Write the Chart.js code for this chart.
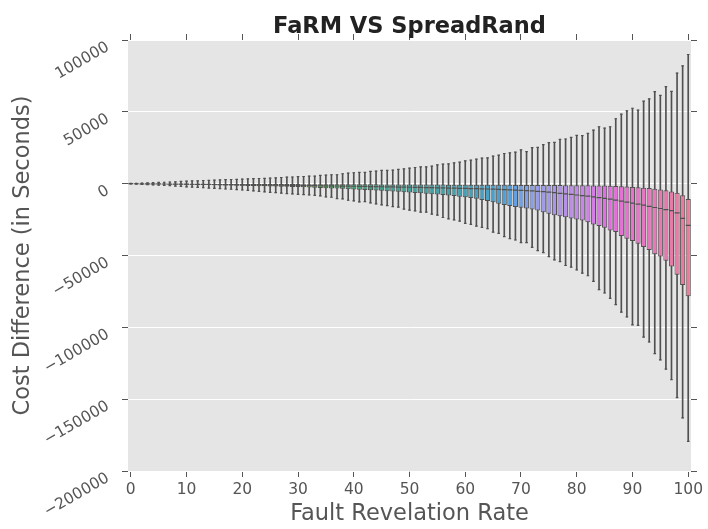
<!DOCTYPE html>
<html>
<head>
<meta charset="utf-8">
<script src="https://cdn.jsdelivr.net/npm/chart.js@4/dist/chart.umd.min.js"></script>
<style>
  body { margin: 0; background: #fff; }
  #wrap { width: 708px; height: 529px; position: relative; }
</style>
</head>
<body>
<div id="wrap"><canvas id="chart"></canvas></div>
<script>
// Fault revelation rate 0..100 (one box per rate)
const rates = Array.from({ length: 101 }, (_, i) => i);

// Box plot statistics (seconds)
const whiskerHigh = [
    150, 300, 400, 550, 700, 850, 1000, 1150, 1300, 1550,
    1800, 1900, 2000, 2200, 2350, 2500, 2600, 2750, 2900, 3050,
    3200, 3350, 3500, 3600, 3750, 3900, 4100, 4300, 4500, 4650,
    4850, 5000, 5280, 5280, 5740, 5970, 6200, 6200, 6890, 7350,
    7590, 7810, 7810, 8510, 8740, 9200, 9200, 9430, 9890, 10350,
    10810, 11270, 11730, 11730, 12190, 13120, 13580, 13810, 14500, 14960,
    15890, 16340, 17030, 17800, 18000, 19200, 19800, 21000, 21400, 21900,
    23500, 22300, 25100, 25300, 27200, 28600, 28800, 30800, 31100, 32200,
    33600, 33400, 35000, 37300, 39600, 38700, 39600, 45200, 48400, 50700,
    52500, 51200, 57400, 59000, 64000, 61500, 67500, 64300, 77000, 82000,
    89900
];
const boxHigh = [
    -10, -20, -30, -40, -50, -60, -70, -80, -90, -100,
    -110, -120, -130, -140, -150, -160, -170, -180, -190, -200,
    -210, -220, -230, -240, -250, -260, -270, -280, -290, -300,
    -310, -320, -330, -350, -360, -370, -390, -400, -410, -430,
    -440, -450, -470, -480, -490, -510, -520, -530, -550, -560,
    -570, -590, -600, -610, -630, -640, -650, -670, -680, -690,
    -710, -720, -740, -750, -770, -780, -800, -820, -830, -850,
    -870, -890, -900, -920, -940, -960, -980, -1000, -1030, -1050,
    -1080, -1110, -1150, -1200, -1260, -1330, -1450, -1600, -1800, -2000,
    -2250, -2500, -2800, -3100, -3500, -4000, -4600, -5400, -6400, -8000,
    -10600
];
const medians = [
    -30, -60, -90, -120, -150, -190, -220, -260, -300, -340,
    -380, -420, -460, -500, -540, -580, -620, -660, -700, -740,
    -780, -820, -860, -900, -950, -1000, -1050, -1100, -1150, -1200,
    -1250, -1300, -1350, -1400, -1450, -1500, -1560, -1620, -1680, -1740,
    -1800, -1860, -1920, -1990, -2060, -2130, -2200, -2270, -2340, -2410,
    -2480, -2560, -2640, -2720, -2800, -2880, -2960, -3040, -3130, -3220,
    -3310, -3400, -3500, -3600, -3700, -3850, -4000, -4150, -4300, -4450,
    -4600, -4800, -5000, -5300, -5600, -5900, -6300, -6700, -7100, -7500,
    -7900, -8300, -8700, -9200, -9700, -10200, -10800, -11400, -12100, -12800,
    -13500, -14200, -15000, -15800, -16600, -17300, -18000, -18800, -20300, -24200,
    -29000
];
const boxLow = [
    -100, -150, -200, -260, -320, -380, -440, -500, -570, -640,
    -710, -780, -850, -920, -1000, -1080, -1160, -1240, -1320, -1400,
    -1480, -1560, -1650, -1740, -1830, -1920, -2010, -2100, -2200, -2300,
    -2400, -2550, -2700, -2850, -3000, -3150, -3300, -3450, -3600, -3800,
    -4000, -4200, -4400, -4600, -4800, -5000, -5200, -5450, -5700, -5950,
    -6200, -6450, -6700, -7000, -7300, -7600, -7950, -8300, -8650, -9050,
    -9500, -9950, -10500, -11300, -12100, -13000, -13900, -14800, -15500, -16160,
    -16850, -17310, -18000, -18700, -19850, -21000, -21920, -22620, -23310, -24230,
    -24920, -25610, -26770, -28380, -29530, -30690, -32530, -33680, -36450, -38290,
    -39910, -41750, -44060, -46130, -49120, -50740, -53740, -57660, -63420, -70570,
    -78410
];
const whiskerLow = [
    -200, -350, -500, -650, -800, -1000, -1200, -1400, -1650, -1900,
    -2300, -2450, -2650, -2850, -3050, -3270, -3500, -3700, -3900, -4150,
    -4400, -4700, -5000, -5300, -5650, -6000, -6300, -6600, -6900, -7150,
    -7400, -7600, -7860, -8090, -8550, -9250, -9470, -10400, -10630, -11550,
    -12010, -12700, -12470, -13390, -14090, -14780, -15240, -15930, -16390, -17770,
    -18470, -18930, -19850, -19850, -21230, -21920, -23540, -24460, -25150, -26070,
    -27690, -28380, -29530, -30450, -31380, -33680, -34600, -36910, -38290, -39210,
    -41060, -41060, -44280, -46590, -47980, -50740, -53050, -54200, -56970, -58120,
    -59960, -62270, -64110, -68030, -73790, -76100, -79790, -84170, -89470, -92700,
    -98230, -98690, -106760, -110220, -118290, -122670, -129120, -136500, -148950, -163010,
    -179380
];

const yTicks = [-200000, -150000, -100000, -50000, 0, 50000, 100000];

// ---- seaborn-like husl palette, desaturated to .75 ----
const M = [[3.2406, -1.5372, -0.4986], [-0.9689, 1.8758, 0.0415], [0.0557, -0.2040, 1.0570]];

function maxChroma(L, H) {
    const hrad = H / 180 * Math.PI, sinH = Math.sin(hrad), cosH = Math.cos(hrad);
    const sub1 = Math.pow(L + 16, 3) / 1560896;
    const sub2 = sub1 > 0.008856 ? sub1 : L / 903.3;
    let result = Infinity;
    for (const [m1, m2, m3] of M) {
        const top = (0.99915 * m1 + 1.05122 * m2 + 1.14460 * m3) * sub2;
        const rbottom = 0.86330 * m3 - 0.17266 * m2;
        const lbottom = 0.12949 * m3 - 0.38848 * m1;
        const bottom = (rbottom * sinH + lbottom * cosH) * sub2;
        for (const t of [0, 1]) {
            const C = L * (top - 1.05122 * t) / (bottom + 0.17266 * sinH * t);
            if (C > 0 && C < result) result = C;
        }
    }
    return result;
}

function huslToRgb(h, s, l) {
    const C = maxChroma(l, h) / 100 * s;
    const hr = h / 180 * Math.PI;
    const U = C * Math.cos(hr), V = C * Math.sin(hr);
    const t = (l + 16) / 116;
    const varY = Math.pow(t, 3) > 0.008856 ? Math.pow(t, 3) : (116 * t - 16) / 903.3;
    const varU = U / (13 * l) + 0.19784;
    const varV = V / (13 * l) + 0.46834;
    const Y = varY;
    const X = -(9 * Y * varU) / ((varU - 4) * varV - varU * varV);
    const Z = (9 * Y - 15 * varV * Y - varV * X) / (3 * varV);
    return M.map(r => {
        const c = r[0] * X + r[1] * Y + r[2] * Z;
        const v = c <= 0.0031308 ? 12.92 * c : 1.055 * Math.pow(c, 1 / 2.4) - 0.055;
        return Math.min(1, Math.max(0, v));
    });
}

function rgbToHls([r, g, b]) {
    const maxc = Math.max(r, g, b), minc = Math.min(r, g, b);
    const l = (maxc + minc) / 2;
    if (maxc === minc) return [0, l, 0];
    const d = maxc - minc;
    const s = l <= 0.5 ? d / (maxc + minc) : d / (2 - maxc - minc);
    const rc = (maxc - r) / d, gc = (maxc - g) / d, bc = (maxc - b) / d;
    let h = r === maxc ? bc - gc : (g === maxc ? 2 + rc - bc : 4 + gc - rc);
    h = ((h / 6) % 1 + 1) % 1;
    return [h, l, s];
}

const boxColors = rates.map((_, i) => {
    const hue = ((i / rates.length + 0.01) % 1) * 359;
    const [h, l, s] = rgbToHls(huslToRgb(hue, 0.9 * 99, 0.65 * 99));
    return `hsl(${(h * 360).toFixed(2)}, ${(s * 80).toFixed(2)}%, ${(l * 100).toFixed(2)}%)`;
});
const gray = '#505050';

Chart.defaults.font.family = "'DejaVu Sans', sans-serif";
Chart.defaults.color = '#555555';

function minus(v) {
    return v < 0 ? '\u2212' + Math.abs(v) : String(v);
}

const plotBackground = {
    id: 'plotBackground',
    beforeDraw(chart) {
        const { ctx, chartArea: a } = chart;
        ctx.save();
        ctx.fillStyle = '#e5e5e5';
        ctx.fillRect(a.left, a.top, a.right - a.left, a.bottom - a.top);
        ctx.restore();
    }
};

// title centred over the plot area, like matplotlib's axes title
const axesTitle = {
    id: 'axesTitle',
    afterDraw(chart) {
        const { ctx, chartArea: a } = chart;
        ctx.save();
        ctx.font = "bold 22.5px 'DejaVu Sans', sans-serif";
        ctx.fillStyle = '#222222';
        ctx.textAlign = 'center';
        ctx.textBaseline = 'alphabetic';
        ctx.fillText('FaRM VS SpreadRand', (a.left + a.right) / 2, 33);
        ctx.restore();
    }
};

const tickEvery10 = c => (c.index % 10 === 0 ? '#555555' : 'rgba(0,0,0,0)');

function capDataset(values, radius) {
    return {
        type: 'line',
        data: values,
        showLine: false,
        pointStyle: 'line',
        pointRadius: radius,
        pointHoverRadius: radius,
        pointBorderColor: gray,
        pointBorderWidth: 1.2,
        order: 1
    };
}

new Chart(document.getElementById('chart'), {
    type: 'bar',
    data: {
        labels: rates.map(String),
        datasets: [
            {
                // whiskers
                type: 'bar',
                data: whiskerLow.map((v, i) => [v, whiskerHigh[i]]),
                backgroundColor: gray,
                barThickness: 1,
                grouped: false,
                order: 3
            },
            {
                // boxes (Q1..Q3)
                type: 'bar',
                data: boxLow.map((v, i) => [v, boxHigh[i]]),
                backgroundColor: boxColors,
                borderColor: gray,
                borderWidth: 1,
                borderSkipped: false,
                barPercentage: 0.92,
                categoryPercentage: 1,
                grouped: false,
                order: 2
            },
            capDataset(medians, 2.5),
            capDataset(whiskerHigh, 1.3),
            capDataset(whiskerLow, 1.3)
        ]
    },
    options: {
        responsive: true,
        maintainAspectRatio: false,
        animation: false,
        layout: { padding: { top: 34 } },
        plugins: {
            legend: { display: false },
            tooltip: { enabled: false },
            title: { display: false }
        },
        scales: {
            x: {
                type: 'category',
                offset: true,
                grid: { display: true, offset: false, drawOnChartArea: false, tickLength: 6, tickColor: tickEvery10 },
                border: { display: false },
                ticks: {
                    autoSkip: false,
                    maxRotation: 0,
                    minRotation: 0,
                    padding: 4,
                    font: { size: 15.5 },
                    callback: (v, i) => (i % 10 === 0 ? String(rates[i]) : '')
                },
                title: {
                    display: true,
                    text: 'Fault Revelation Rate',
                    font: { size: 22.5 },
                    padding: { top: 0, bottom: 1 }
                },
                afterFit: s => { s.height = 58; }
            },
            x2: {
                type: 'category',
                position: 'top',
                offset: true,
                grid: { display: true, offset: false, drawOnChartArea: false, tickLength: 6, tickColor: tickEvery10 },
                border: { display: false },
                ticks: { display: false, autoSkip: false },
                afterFit: s => { s.height = 6; }
            },
            y: {
                type: 'linear',
                min: yTicks[0],
                max: yTicks[yTicks.length - 1],
                afterBuildTicks: s => { s.ticks = yTicks.map(v => ({ value: v })); },
                grid: { color: '#ffffff', lineWidth: 1, tickColor: '#555555', tickLength: 6 },
                border: { display: false },
                ticks: {
                    minRotation: 30,
                    maxRotation: 30,
                    padding: 14,
                    labelOffset: 6,
                    font: { size: 15.5 },
                    callback: v => minus(v)
                },
                title: {
                    display: true,
                    text: 'Cost Difference (in Seconds)',
                    font: { size: 22.5 },
                    padding: { top: 10, bottom: 0 }
                },
                afterFit: s => { s.width = 128; }
            },
            y2: {
                type: 'linear',
                position: 'right',
                min: yTicks[0],
                max: yTicks[yTicks.length - 1],
                afterBuildTicks: s => { s.ticks = yTicks.map(v => ({ value: v })); },
                grid: { drawOnChartArea: false, tickColor: '#555555', tickLength: 6 },
                border: { display: false },
                ticks: { display: false },
                afterFit: s => { s.width = 17; }
            }
        }
    },
    plugins: [plotBackground, axesTitle]
});
</script>
</body>
</html>
